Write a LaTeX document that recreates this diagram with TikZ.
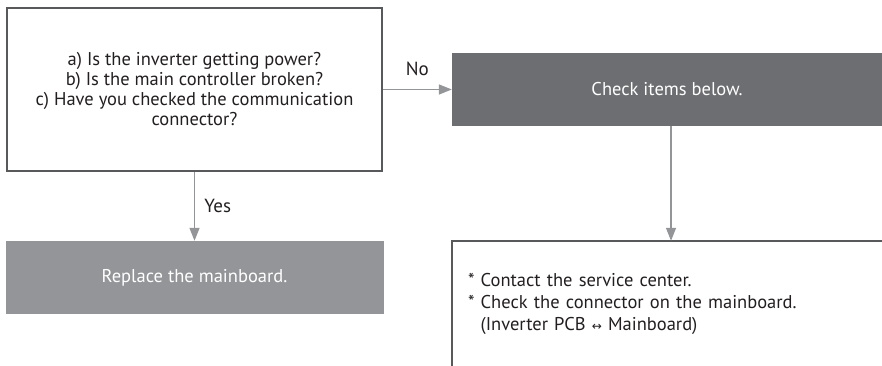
\documentclass[tikz,border=0pt]{standalone}
\usepackage{fontspec}
\setmainfont{PT Sans}
\newfontfamily\symfnt{DejaVu Sans}
\usetikzlibrary{arrows.meta}
\definecolor{txt}{HTML}{231F20}
\definecolor{brd}{HTML}{58595B}
\definecolor{arrc}{HTML}{939598}
\definecolor{darkfill}{HTML}{6D6E71}
\definecolor{lightfill}{HTML}{939598}
\tikzset{
  qbox/.style={draw=brd, line width=2, fill=white, align=center, text=txt,
    font=\fontsize{18.5}{20}\selectfont, inner sep=0},
  darkbox/.style={fill=darkfill, text=white, align=center,
    font=\fontsize{18.5}{20}\selectfont, inner sep=0},
  lightbox/.style={fill=lightfill, text=white, align=center,
    font=\fontsize{18.5}{20}\selectfont, inner sep=0},
  notebox/.style={align=left, text=txt, font=\fontsize{18.5}{22}\selectfont,
    inner xsep=16, inner ysep=0},
  arr/.style={draw=arrc, line width=1.3, -{Triangle[length=13,width=10]}},
  lbl/.style={text=txt, font=\fontsize{19}{20}\selectfont},
  border/.style={draw=brd, line width=2}
}
\begin{document}
\begin{tikzpicture}[x=1pt,y=-1pt]
\useasboundingbox (0,0) rectangle (882,366);
\node[qbox, minimum width=375, minimum height=163] (q) at (194.5,89.5)
  {a) Is the inverter getting power?\\b) Is the main controller broken?\\c) Have you checked the communication\\connector?};
\node[darkbox, minimum width=430, minimum height=73] (b2) at (667,89.5) {Check items below.};
\node[lightbox, minimum width=378, minimum height=73] (b3) at (194.5,277.5) {Replace the mainboard.};
\node[notebox, minimum width=430, minimum height=125, text width=398] (b4) at (667,303.5)
  {{*} Contact the service center.\\{*} Check the connector on the mainboard.\\\phantom{* }(Inverter PCB {\symfnt\fontsize{12}{12}\selectfont ↔} Mainboard)};
\draw[border] (b4.north east) -- (b4.north west) -- (b4.south west);
\draw[arr] (q.east) -- node[lbl, midway, above, yshift=10] (no) {No} (b2.west);
\draw[arr] (q.south) -- node[lbl, midway, right, xshift=6] (yes) {Yes} (b3.north);
\draw[arr] ([xshift=4]b2.south) -- ([xshift=4]b4.north);
\end{tikzpicture}
\end{document}
